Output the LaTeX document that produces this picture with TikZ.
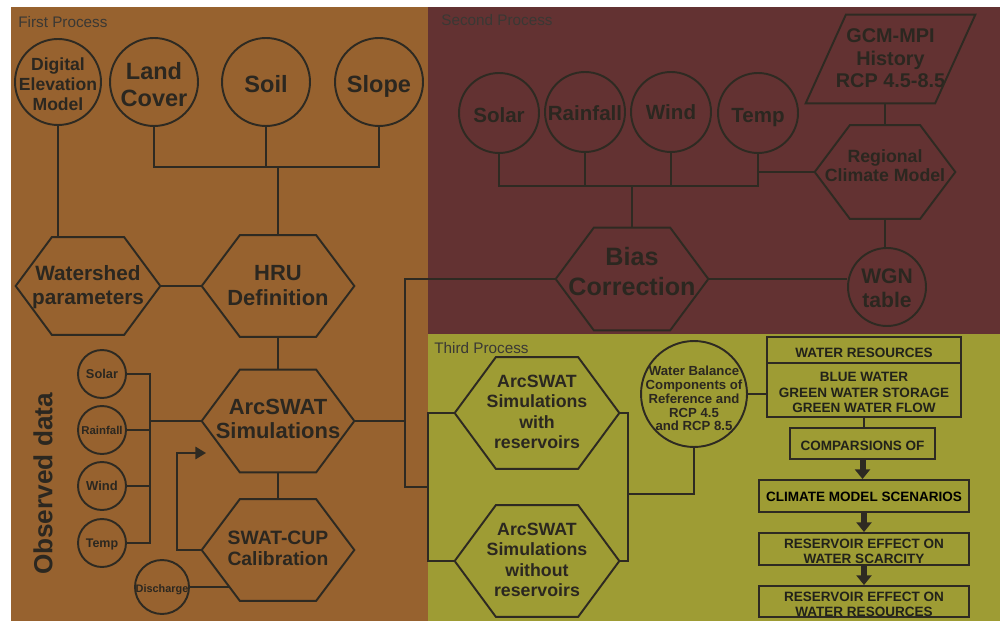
\documentclass[tikz,border=0pt]{standalone}
\usepackage{fontspec}
\setmainfont{Liberation Sans}
\usetikzlibrary{calc,arrows.meta}
\definecolor{brownbg}{HTML}{97622F}
\definecolor{maroonbg}{HTML}{633232}
\definecolor{olivebg}{HTML}{9E9C34}
\definecolor{linec}{HTML}{2E2A22}
\definecolor{txtc}{HTML}{2B2720}
\definecolor{boxtxt}{HTML}{22221A}
\definecolor{labelc}{HTML}{3A3834}
\newcommand\fs[2]{\fontsize{#1pt}{#2pt}\selectfont}
\newcommand\zw[2][0.22em]{\makebox[0pt]{\raisebox{-#1}[\height][\depth]{\begin{tabular}{@{}c@{}}#2\end{tabular}}}}
\newcommand\hexdraw[1]{\draw[ln] (#1.west) -- ($(#1.north west)!0.25!(#1.north east)$) -- ($(#1.north west)!0.75!(#1.north east)$) -- (#1.east) -- ($(#1.south west)!0.75!(#1.south east)$) -- ($(#1.south west)!0.25!(#1.south east)$) -- cycle;}
\tikzset{
 ln/.style={draw=linec, line width=1.1pt},
 circ/.style={circle, ln, inner sep=0pt, minimum size=#1, text=txtc, font=\bfseries},
 hexn/.style n args={2}{rectangle, inner sep=0pt, minimum width=#1, minimum height=#2, text=txtc, font=\bfseries},
 hext/.style={inner sep=0pt, text=txtc, font=\bfseries},
 boxn/.style n args={2}{rectangle, ln, inner sep=0pt, minimum width=#1, minimum height=#2, text=boxtxt, font=\bfseries\fs{7.7}{8.6}},
 plabel/.style={anchor=west, inner sep=0pt, text=labelc, font=\fs{8.7}{10}},
 bigarrow/.style={draw=linec, line width=3.4pt, -{Triangle[width=8.5pt,length=5.5pt]}},
}
\begin{document}
\begin{tikzpicture}[x=0.02cm,y=-0.02cm]
\useasboundingbox (0,0) rectangle (1000,621);
\fill[brownbg] (11,7) rectangle (428,621);
\fill[maroonbg] (428,7) rectangle (1000,334);
\fill[olivebg] (428,334) rectangle (1000,621);

\node[plabel] (p1) at (18,22) {First Process};
\node[plabel] (p2) at (441,20) {Second Process};
\node[plabel] (p3) at (434,348) {Third Process};

% ---------- first process
\node[circ=1.72cm] (dem) at (58,82) {\fs{10}{11.4}\zw[0.28em]{Digital\\Elevation\\Model}};
\node[circ=1.76cm] (land) at (154,82) {\fs{13.4}{15.4}\zw{Land\\Cover}};
\node[circ=1.76cm] (soil) at (266,82) {\fs{13.4}{15.4}\zw{Soil}};
\node[circ=1.76cm] (slope) at (379,82) {\fs{13.4}{15.4}\zw{Slope}};
\node[hexn={2.88cm}{1.94cm}] (ws) at (88,286) {\fs{11.8}{13.7}\zw[0.08em]{Watershed\\parameters}};
\node[hexn={3.04cm}{2.02cm}] (hru) at (278,286) {\fs{12.5}{14.2}\zw[0.08em]{HRU\\Definition}};
\node[hexn={3.04cm}{2.04cm}] (arc) at (278,421) {\fs{12.5}{13.7}\zw[0.05em]{ArcSWAT\\Simulations}};
\node[hexn={3.04cm}{2.02cm}] (cup) at (278,550) {\fs{11}{12}\zw[0.05em]{SWAT-CUP\\Calibration}};
\hexdraw{ws}
\hexdraw{hru}
\hexdraw{arc}
\hexdraw{cup}

\node[circ=0.96cm] (osolar) at (102,374) {\fs{7.3}{8}\zw[0.15em]{Solar}};
\node[circ=0.96cm] (orain) at (102,430) {\fs{6.5}{8}\zw[0.15em]{Rainfall}};
\node[circ=0.96cm] (owind) at (102,486) {\fs{7.4}{8}\zw[0.15em]{Wind}};
\node[circ=0.96cm] (otemp) at (102,543) {\fs{7.1}{8}\zw[0.15em]{Temp}};
\node[circ=1.08cm] (dis) at (162,587) {\fs{6.2}{7}\zw[0.27em]{Discharge}};
\node[rotate=90, inner sep=0pt, text=txtc, font=\bfseries\fs{14.9}{16}] (obs) at (43,484) {Observed data};

\coordinate (j1) at (278,167);
\draw[ln] (dem.south) -- (dem.south |- ws.north);
\draw[ln] (land.south) -- (land.south |- j1) -- (slope.south |- j1) -- (slope.south);
\draw[ln] (soil.south) -- (soil.south |- j1);
\draw[ln] (j1) -- (hru.north);
\draw[ln] (ws.east) -- (hru.west);
\draw[ln] (hru.south) -- (arc.north);
\draw[ln] (arc.south) -- (cup.north);

\coordinate (ob) at (150,421);
\draw[ln] (osolar.east) -- (osolar.east -| ob) -- (otemp.east -| ob) -- (otemp.east);
\draw[ln] (orain.east) -- (orain.east -| ob);
\draw[ln] (owind.east) -- (owind.east -| ob);
\draw[ln] (ob) -- (arc.west);

\coordinate (fb) at (206,453);
\draw[ln, -{Triangle[width=7pt,length=6pt]}] (cup.west) -- ++(-25,0) |- (fb);
\coordinate (dh) at (230,587);
\draw[ln] (dis.east) -- (dh);

% ---------- second process
\node[circ=1.6cm] (ssolar) at (499,113) {\fs{11.7}{13}\zw[0.24em]{Solar}};
\node[circ=1.6cm] (srain) at (585,112) {\fs{11.7}{13}\zw[0.2em]{Rainfall}};
\node[circ=1.6cm] (swind) at (671,112) {\fs{11.7}{13}\zw[0.15em]{Wind}};
\node[circ=1.6cm] (stemp) at (758,113) {\fs{11.7}{13}\zw[0.24em]{Temp}};
\node[circ=1.56cm] (wgn) at (887,287) {\fs{12}{13.7}\zw[0.19em]{WGN\\table}};
\node[hexn={2.8cm}{1.86cm}] (rcm) at (885,172) {};
\node[hext, font=\bfseries\fs{10.1}{11}] (rcmt) at (885,167) {\zw[0.05em]{Regional\\Climate Model}};
\node[hexn={3.04cm}{2.04cm}] (bias) at (632,279) {};
\node[hext, font=\bfseries\fs{14.3}{17}] (biast) at (632,273) {\zw[0.05em]{Bias\\Correction}};
\hexdraw{rcm}
\hexdraw{bias}
\node[rectangle, inner sep=0pt, minimum width=3.38cm, minimum height=1.76cm, text=txtc, font=\bfseries\fs{11.3}{13}] (gcm) at (890.5,59) {\zw[0.08em]{GCM-MPI\\History\\RCP 4.5-8.5}};
\draw[ln] (gcm.south west) -- ($(gcm.north west)!0.237!(gcm.north east)$) -- (gcm.north east) -- ($(gcm.south east)!0.237!(gcm.south west)$) -- cycle;

\coordinate (sj) at (632,186);
\draw[ln] (ssolar.south) -- (ssolar.south |- sj) -- (stemp.south |- sj) -- (stemp.south);
\draw[ln] (srain.south) -- (srain.south |- sj);
\draw[ln] (swind.south) -- (swind.south |- sj);
\draw[ln] (sj) -- (bias.north);
\draw[ln] (stemp.south |- rcm.west) -- (rcm.west);
\draw[ln] (rcm.north |- gcm.south) -- (rcm.north);
\draw[ln] (rcm.south) -- (rcm.south |- wgn.north);
\draw[ln] (bias.east) -- (bias.east -| wgn.west);

% ---------- third process
\node[hexn={3.28cm}{2.22cm}] (hw) at (537,413) {\fs{10.1}{11.6}\zw[0.06em]{ArcSWAT\\Simulations\\with\\reservoirs}};
\node[hexn={3.28cm}{2.22cm}] (hwo) at (537,561) {\fs{10.1}{11.6}\zw[0.06em]{ArcSWAT\\Simulations\\without\\reservoirs}};
\hexdraw{hw}
\hexdraw{hwo}
\node[circ=2.12cm] (wb) at (694,394) {\fs{7.5}{7.8}\zw[0.5em]{Water Balance\\Components of\\Reference and\\RCP 4.5\\and RCP 8.5}};

\node[boxn={3.88cm}{0.52cm}] (wr) at (864,350) {\zw[0.3em]{WATER RESOURCES}};
\node[boxn={3.88cm}{1.08cm}] (bw) at (864,390) {\zw[0.3em]{BLUE WATER\\GREEN WATER STORAGE\\GREEN WATER FLOW}};
\node[boxn={2.9cm}{0.62cm}] (cmp) at (862.5,443.5) {\zw[0.3em]{COMPARSIONS OF}};
\node[boxn={4.2cm}{0.64cm}, text=black] (cms) at (864,496) {\zw[0.18em]{CLIMATE MODEL SCENARIOS}};
\node[boxn={4.2cm}{0.64cm}] (rs) at (864,549) {\zw[0.3em]{RESERVOIR EFFECT ON\\WATER SCARCITY}};
\node[boxn={4.2cm}{0.62cm}] (rr) at (864,601.5) {\zw[0.3em]{RESERVOIR EFFECT ON\\WATER RESOURCES}};

\draw[ln] (bw.south) -- (bw.south |- cmp.north);
\draw[bigarrow] (cmp.south) -- (cmp.south |- cms.north);
\draw[bigarrow] (cms.south) -- (rs.north);
\draw[bigarrow] (rs.south) -- (rr.north);

\coordinate (lj) at (405,421);
\coordinate (lk) at (428,487);
\draw[ln] (arc.east) -- (lj);
\draw[ln] (bias.west) -- (bias.west -| lj) -- (lj |- lk) -- (lk);
\draw[ln] (hw.west) -- (hw.west -| lk) -- (hwo.west -| lk) -- (hwo.west);

\coordinate (tj) at (628,494);
\draw[ln] (hw.east) -- (hw.east -| tj) -- (hwo.east -| tj) -- (hwo.east);
\draw[ln] (tj) -| (wb.south);
\draw[ln] (wb.east) -- (wb.east -| bw.west);
\end{tikzpicture}
\end{document}
